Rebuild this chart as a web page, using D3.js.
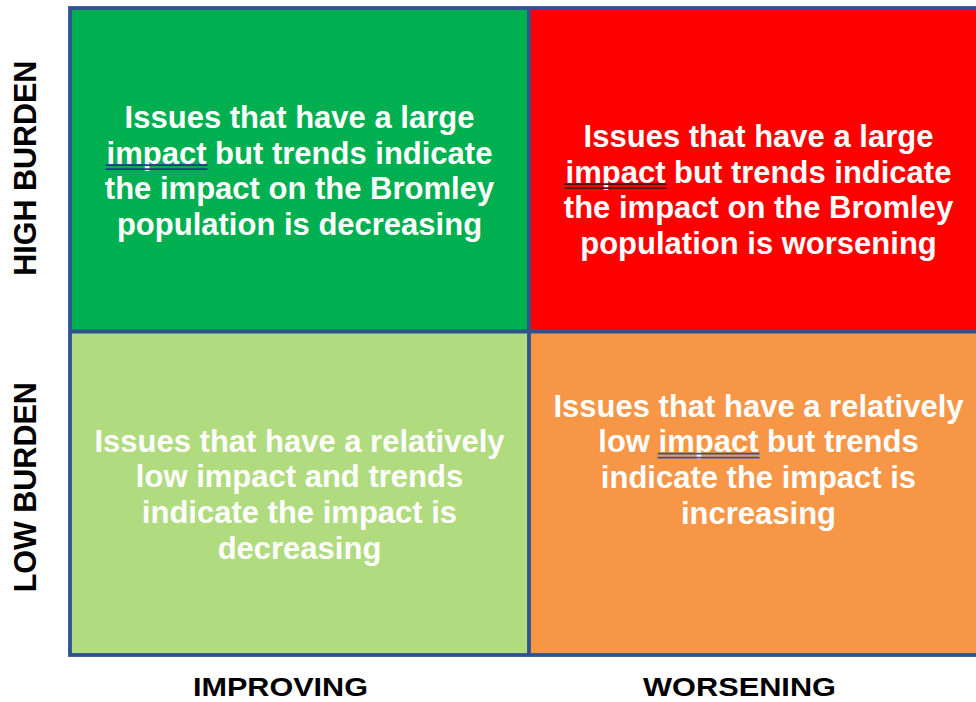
<!DOCTYPE html>
<html>
<head>
<meta charset="utf-8">
<script src="https://cdn.jsdelivr.net/npm/d3@7"></script>
<style>
  html, body { margin: 0; padding: 0; background: #ffffff; }
  svg { display: block; }
  text { font-family: "Liberation Sans", Arial, sans-serif; font-weight: bold; }
</style>
</head>
<body>
<svg id="chart" width="976" height="702"></svg>
<script>
// ---- data ----
const columns = ["IMPROVING", "WORSENING"];
const rows = ["HIGH BURDEN", "LOW BURDEN"];
const cellRow = ["HIGH BURDEN", "HIGH BURDEN", "LOW BURDEN", "LOW BURDEN"];
const cellCol = ["IMPROVING", "WORSENING", "IMPROVING", "WORSENING"];
const cellLines = [
  ["Issues that have a large", "impact but trends indicate", "the impact on the Bromley", "population is decreasing"],
  ["Issues that have a large", "impact but trends indicate", "the impact on the Bromley", "population is worsening"],
  ["Issues that have a relatively", "low impact and trends", "indicate the impact is", "decreasing"],
  ["Issues that have a relatively", "low impact but trends", "indicate the impact is", "increasing"]
];
const underlinedWord = ["impact", "impact", null, "impact"];

// ---- styles / layout ----
const cellFill = ["#00B050", "#FF0000", "#B0DB7E", "#F79646"];
const underlineColor = ["#1F3A8A", "#5C0A10", null, "#3A4F9E"];
const firstBaseline = [120, 139, 120, 85];
const lineGap = 35.7;
const frameColor = "#2E5490";

const svg = d3.select("#chart");

const x = d3.scaleBand().domain(columns).range([70, 988]);
const y = d3.scaleBand().domain(rows).range([8, 655]);

svg.append("defs").append("clipPath").attr("id", "clip")
  .append("rect").attr("x", 0).attr("y", 0).attr("width", 976).attr("height", 702);

const g = svg.append("g").attr("clip-path", "url(#clip)");

const cells = d3.range(4).map(i => ({
  i, row: cellRow[i], col: cellCol[i], lines: cellLines[i],
  word: underlinedWord[i], fill: cellFill[i], ul: underlineColor[i], top: firstBaseline[i]
}));

// cells
g.selectAll("rect.cell").data(cells).join("rect")
  .attr("class", "cell")
  .attr("x", d => x(d.col))
  .attr("y", d => y(d.row))
  .attr("width", x.bandwidth())
  .attr("height", y.bandwidth())
  .attr("fill", d => d.fill);

// texts
cells.forEach(d => {
  const cx = x(d.col) + x.bandwidth() / 2;
  d.lines.forEach((line, li) => {
    const by = y(d.row) + d.top + li * lineGap;
    const t = g.append("text")
      .attr("x", cx).attr("y", by)
      .attr("text-anchor", "middle")
      .attr("font-size", 31)
      .attr("fill", "#ffffff")
      .text(line);
    if (d.word) {
      const re = new RegExp("(^|\\s)" + d.word + "(\\s|$)");
      const m = line.match(re);
      if (m && li === 1) {
        const idx = m.index + m[1].length;
        const node = t.node();
        const sx = node.getStartPositionOfChar(idx).x;
        const ex = node.getEndPositionOfChar(idx + d.word.length - 1).x;
        [1.5, 5.5].forEach(off => {
          g.append("line")
            .attr("x1", sx - 1).attr("x2", ex + 1)
            .attr("y1", by + off).attr("y2", by + off)
            .attr("stroke", d.ul).attr("stroke-width", 1.8);
        });
      }
    }
  });
});

// frame & grid lines
g.append("rect")
  .attr("x", x.range()[0]).attr("y", y.range()[0])
  .attr("width", x.range()[1] - x.range()[0])
  .attr("height", y.range()[1] - y.range()[0])
  .attr("fill", "none").attr("stroke", frameColor).attr("stroke-width", 3.8);
g.append("line")
  .attr("x1", x(columns[1])).attr("x2", x(columns[1]))
  .attr("y1", y.range()[0]).attr("y2", y.range()[1])
  .attr("stroke", frameColor).attr("stroke-width", 3.8);
g.append("line")
  .attr("x1", x.range()[0]).attr("x2", x.range()[1])
  .attr("y1", y(rows[1])).attr("y2", y(rows[1]))
  .attr("stroke", frameColor).attr("stroke-width", 3.8);

// column labels
const colLabelLen = [175, 193];
svg.selectAll("text.col").data(columns).join("text")
  .attr("class", "col")
  .attr("x", d => x(d) + x.bandwidth() / 2 - 19)
  .attr("y", 696)
  .attr("text-anchor", "middle")
  .attr("font-size", 25)
  .attr("fill", "#000000")
  .attr("textLength", (d, i) => colLabelLen[i])
  .attr("lengthAdjust", "spacingAndGlyphs")
  .text(d => d);

// row labels
svg.selectAll("text.row").data(rows).join("text")
  .attr("class", "row")
  .attr("transform", (d, i) => `translate(36,${y(d) + y.bandwidth() / 2 - (i === 0 ? 1.5 : 6)}) rotate(-90)`)
  .attr("text-anchor", "middle")
  .attr("font-size", 30.5)
  .attr("fill", "#000000")
  .text(d => d);
</script>
</body>
</html>
